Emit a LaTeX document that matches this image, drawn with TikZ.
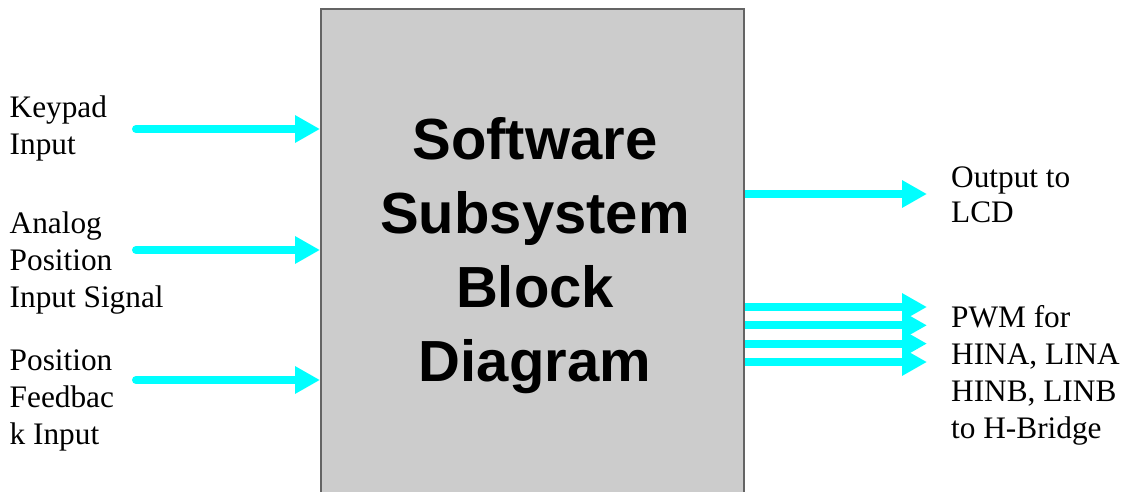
\documentclass[tikz,border=0pt]{standalone}
\usepackage{fontspec}
\setmainfont{Liberation Serif}
\newfontfamily\titlefont{Liberation Sans}
\usetikzlibrary{arrows.meta,backgrounds}
\definecolor{sigcyan}{RGB}{0,255,255}
\definecolor{boxgray}{RGB}{204,204,204}
\definecolor{boxline}{RGB}{100,100,100}
\begin{document}
\begin{tikzpicture}[x=1pt,y=-1pt,
  sig/.style={draw=sigcyan, line width=8pt, -{Triangle[length=25pt,width=26pt]}},
  lbl/.style={anchor=base west, align=left, inner sep=0pt, font=\fontsize{31.3}{37}\selectfont},
  ]
\useasboundingbox (0,0) rectangle (1127,491);
\clip (0,0) rectangle (1127,491);
\node[draw=boxline, line width=1.5pt, fill=boxgray, minimum width=423pt, minimum height=500pt, anchor=north west, inner sep=0pt] (sw) at (320,8) {};
\node[font=\titlefont\bfseries\fontsize{58}{74}\selectfont, align=center, anchor=base, inner sep=0pt] (title) at (535,381) {Software\\Subsystem\\Block\\Diagram};

\coordinate (in1) at (136,129);
\coordinate (in2) at (136,250);
\coordinate (in3) at (136,380);
\coordinate (lcd) at (927,194);
\coordinate (p1) at (927,307);
\coordinate (p2) at (927,325.3);
\coordinate (p3) at (927,343.6);
\coordinate (p4) at (927,362);

\begin{scope}[on background layer]
\draw[sig, line cap=round] (in1) -- (in1 -| sw.west);
\draw[sig, line cap=round] (in2) -- (in2 -| sw.west);
\draw[sig, line cap=round] (in3) -- (in3 -| sw.west);
\draw[sig] (lcd -| sw.east) -- (lcd);
\draw[sig] (p1 -| sw.east) -- (p1);
\draw[sig] (p2 -| sw.east) -- (p2);
\draw[sig] (p3 -| sw.east) -- (p3);
\draw[sig] (p4 -| sw.east) -- (p4);
\end{scope}

\node[lbl] (kp) at (9.5,154) {Keypad\\Input};
\node[lbl] (ap) at (9.5,307) {Analog\\Position\\Input Signal};
\node[lbl] (pf) at (9.5,444) {Position\\Feedbac\\k Input};
\node[lbl, font=\fontsize{31.3}{35}\selectfont] (lcdt) at (951,222) {Output to\\LCD};
\node[lbl] (pwm) at (951,438) {PWM for\\HINA, LINA\\HINB, LINB\\to H-Bridge};
\end{tikzpicture}
\end{document}
